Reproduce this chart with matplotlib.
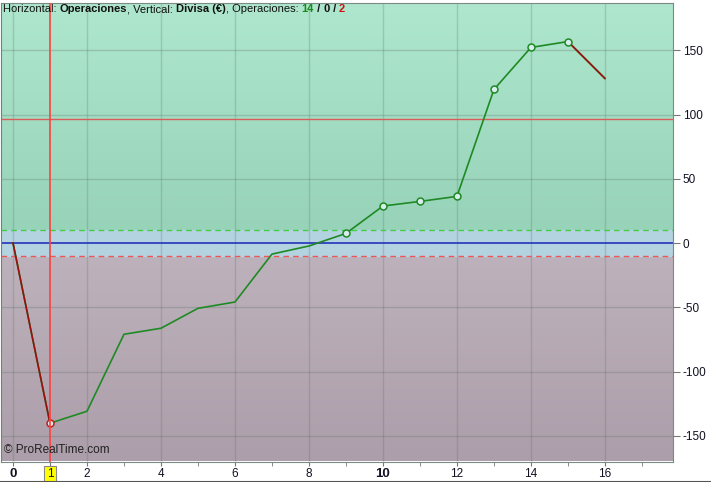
import numpy as np
import matplotlib
matplotlib.use('Agg')
import matplotlib.pyplot as plt
from matplotlib.colors import LinearSegmentedColormap
from matplotlib.lines import Line2D

plt.rcParams['font.family'] = ['Liberation Sans', 'DejaVu Sans']

# Equity curve per trade
trades = list(range(0, 17))
equity = [0, -140.2, -130.9, -71, -66.3, -50.8, -45.9, -8.6, -2.3, 7.5,
          28.8, 32.4, 36.3, 119.5, 152.2, 156.8, 128.1]
marked = [1, 9, 10, 11, 12, 13, 14, 15]
red_segments = [(0, 1), (15, 16)]

x_labels = [0, 1, 2, 4, 6, 8, 10, 12, 14, 16]
x_minor = [3, 5, 7, 9, 11, 13, 15, 17]
y_ticks = [-150, -100, -50, 0, 50, 100, 150]
band_hi, band_lo = 10, -10
ref_level = 96.3
cursor_x = 1

W, H = 711, 482
fig = plt.figure(figsize=(W / 100, H / 100), dpi=100)
fig.patch.set_facecolor('white')
ax = fig.add_axes([1 / W, (H - 461.5) / H, 672 / W, 458.5 / H])

xmin, xmax = -0.324, 17.84
ymin, ymax = -170.0, 186.8
ax.set_xlim(xmin, xmax)
ax.set_ylim(ymin, ymax)

# background bands with soft gradients
grad = np.linspace(0, 1, 256).reshape(-1, 1)
green = LinearSegmentedColormap.from_list('g', ['#97d3b9', '#aee7cd'])
mauve = LinearSegmentedColormap.from_list('m', ['#ac9eaa', '#bdb2bc'])
ax.imshow(grad, cmap=green, extent=[xmin, xmax, band_hi, ymax], origin='lower',
          aspect='auto', zorder=0)
ax.imshow(grad, cmap=mauve, extent=[xmin, xmax, ymin, band_lo], origin='lower',
          aspect='auto', zorder=0)
ax.axhspan(band_lo, band_hi, color='#b3d3e0', zorder=0)

# grid
for gx in range(0, 17, 2):
    ax.axvline(gx, color='#5a6e66', alpha=0.25, lw=1, zorder=1)
for gy in [-150, -100, -50, 50, 100, 150]:
    ax.axhline(gy, color='#5a6e66', alpha=0.28, lw=1, zorder=1)

ax.axhline(band_hi, color='#44cc44', lw=1, ls=(0, (4, 3)), zorder=2)
ax.axhline(band_lo, color='#ee5555', lw=1, ls=(0, (4, 3)), zorder=2)
ax.axhline(0, color='#2233bb', lw=1.2, zorder=2)
ax.axhline(ref_level, color='#dd5a5a', lw=1, zorder=2)

# equity line
green_c, red_c = '#1f8a24', '#9a1010'
ax.plot(trades, equity, color=green_c, lw=1.2, zorder=3)
for a, b in red_segments:
    ax.plot(trades[a:b + 1], equity[a:b + 1], color=red_c, lw=1.2, zorder=4)
for i in marked:
    ec = '#bb2222' if i == 1 else green_c
    ax.plot(trades[i], equity[i], 'o', ms=5, mfc='#d8eeee', mec=ec, mew=1.1,
            zorder=5)

ax.axvline(cursor_x, color='#ff4040', lw=1.2, zorder=6)

# header text
parts = [('Horizontal: ', 'normal', '#111111'), ('Operaciones', 'bold', '#111111'),
         (', Vertical: ', 'normal', '#111111'), ('Divisa (€)', 'bold', '#111111'),
         (', Operaciones: ', 'normal', '#111111'), ('14', 'bold', '#1a8a1a'),
         (' / ', 'bold', '#111111'), ('0', 'bold', '#111111'),
         (' / ', 'bold', '#111111'), ('2', 'bold', '#cc1111')]
fig.canvas.draw()
renderer = fig.canvas.get_renderer()
px = 3
for txt, wt, col in parts:
    t = fig.text(px / W, 1 - 4 / H, txt, fontsize=8, fontweight=wt, color=col,
                 va='top', ha='left', zorder=7)
    bb = t.get_window_extent(renderer)
    px += bb.width
ax.text(3 / 672, 0.012, '© ProRealTime.com', transform=ax.transAxes,
        fontsize=8.5, color='#222222', va='bottom', ha='left', zorder=7)

# axes styling
for s in ['top', 'bottom', 'left', 'right']:
    ax.spines[s].set_color('#7a8a84')
ax.spines['left'].set_color('#5f8a74')
ax.yaxis.tick_right()
ax.set_yticks(y_ticks)
ax.set_yticklabels([str(v) for v in y_ticks])
ax.tick_params(axis='y', direction='out', length=5, color='#777777',
               labelsize=8.5, labelcolor='#111122', pad=2)
ax.set_xticks(x_labels)
ax.set_xticklabels([str(v) for v in x_labels])
ax.set_xticks(x_minor, minor=True)
ax.tick_params(axis='x', which='both', direction='out', length=3,
               color='#777777', labelsize=8.5, labelcolor='#111122', pad=2)
for lab in ax.get_xticklabels():
    if lab.get_text() in ('0', '10'):
        lab.set_fontweight('bold')
        lab.set_fontsize(9.5)
    if lab.get_text() == '1':
        lab.set_bbox(dict(boxstyle='square,pad=0.2', fc='#ffff00',
                          ec='#888888', lw=0.8))

fig.add_artist(Line2D([0, 1], [0.5 / H, 0.5 / H], color='#555555', lw=1.5))

fig.savefig('out.png', dpi=100)
